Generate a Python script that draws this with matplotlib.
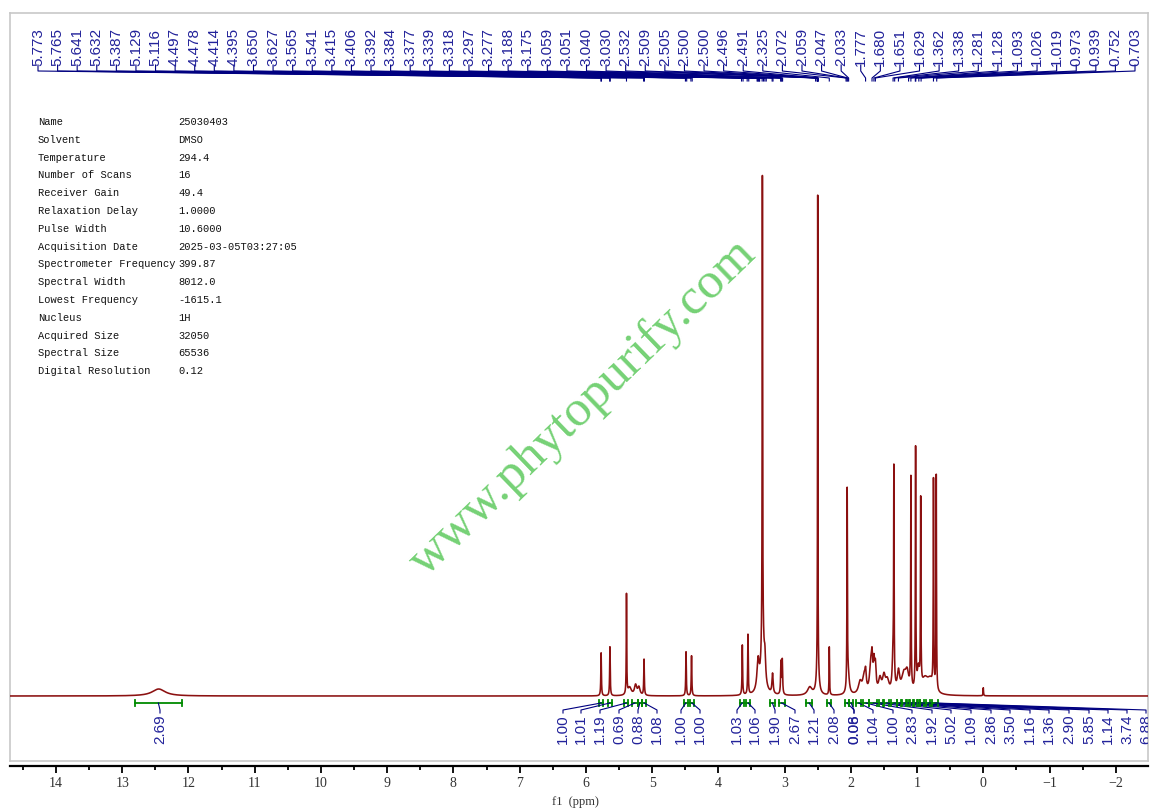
import numpy as np
import matplotlib
matplotlib.use("Agg")
import matplotlib.pyplot as plt
from matplotlib.ticker import MultipleLocator, FuncFormatter

# ---------------- data ----------------
# spectrum peaks: position (ppm), height (arb., baseline = 0), half width (ppm)
peak_ppm = [12.45, 5.770, 5.637, 5.387, 5.34, 5.25, 5.20, 5.122, 4.488, 4.405,
            3.638, 3.553, 3.40, 3.335, 3.33, 3.297, 3.182, 3.055, 3.035, 2.62,
            2.500, 2.50, 2.325, 2.055, 2.04, 1.86, 1.80, 1.777, 1.70, 1.680,
            1.651, 1.629, 1.56, 1.50, 1.45, 1.362, 1.350, 1.281, 1.20, 1.15,
            1.093, 1.022, 0.98, 0.945, 0.88, 0.80, 0.752, 0.710, 0.0]
peak_height = [7, 43, 49, 100, 8, 10, 8, 36, 44, 40,
               50, 60, 30, 467, 50, 22, 20, 32, 34, 8,
               470, 30, 48, 195, 20, 12, 16, 16, 26, 28,
               26, 24, 14, 16, 12, 35, 205, 20, 18, 18,
               211, 240, 22, 185, 14, 12, 207, 215, 8]
peak_width = [0.12, 0.005, 0.005, 0.004, 0.03, 0.02, 0.02, 0.005, 0.005, 0.005,
              0.005, 0.005, 0.02, 0.004, 0.03, 0.012, 0.01, 0.006, 0.006, 0.04,
              0.003, 0.02, 0.004, 0.004, 0.02, 0.03, 0.025, 0.012, 0.02, 0.012,
              0.012, 0.012, 0.025, 0.025, 0.03, 0.015, 0.004, 0.02, 0.04, 0.03,
              0.004, 0.004, 0.02, 0.004, 0.06, 0.05, 0.004, 0.004, 0.004]

# peak pick labels (ppm)
peak_labels = [5.773, 5.765, 5.641, 5.632, 5.387, 5.129, 5.116, 4.497, 4.478, 4.414,
               4.395, 3.650, 3.627, 3.565, 3.541, 3.415, 3.406, 3.392, 3.384, 3.377,
               3.339, 3.318, 3.297, 3.277, 3.188, 3.175, 3.059, 3.051, 3.040, 3.030,
               2.532, 2.509, 2.505, 2.500, 2.500, 2.496, 2.491, 2.325, 2.072, 2.059,
               2.047, 2.033, 1.777, 1.680, 1.651, 1.629, 1.362, 1.338, 1.281, 1.128,
               1.093, 1.026, 1.019, 0.973, 0.939, 0.752, 0.703]

# integrals: start, end (ppm), value
int_start = [12.81, 5.80, 5.67, 5.42, 5.30, 5.21, 5.15, 4.52, 4.43, 3.67, 3.58, 3.22,
             3.09, 2.68, 2.36, 2.09, 2.02, 1.92, 1.82, 1.72, 1.58, 1.50, 1.40, 1.30,
             1.23, 1.15, 1.11, 1.05, 0.99, 0.96, 0.86, 0.78]
int_end = [12.10, 5.74, 5.61, 5.36, 5.22, 5.16, 5.09, 4.46, 4.37, 3.61, 3.52, 3.15,
           3.00, 2.58, 2.30, 2.02, 1.97, 1.84, 1.72, 1.60, 1.52, 1.42, 1.30, 1.24,
           1.16, 1.12, 1.06, 1.00, 0.96, 0.90, 0.80, 0.68]
int_value = ["2.69", "1.00", "1.01", "1.19", "0.69", "0.88", "1.08", "1.00", "1.00",
             "1.03", "1.06", "1.90", "2.67", "1.21", "2.08", "0.08", "0.06", "1.04",
             "1.00", "2.83", "1.92", "5.02", "1.09", "2.86", "3.50", "1.16", "1.36",
             "2.90", "5.85", "1.14", "3.74", "6.88"]

param_names = ["Name", "Solvent", "Temperature", "Number of Scans", "Receiver Gain",
               "Relaxation Delay", "Pulse Width", "Acquisition Date",
               "Spectrometer Frequency", "Spectral Width", "Lowest Frequency",
               "Nucleus", "Acquired Size", "Spectral Size", "Digital Resolution"]
param_values = ["25030403", "DMSO", "294.4", "16", "49.4", "1.0000", "10.6000",
                "2025-03-05T03:27:05", "399.87", "8012.0", "-1615.1", "1H",
                "32050", "65536", "0.12"]

# ---------------- layout ----------------
W, H = 1157, 811
fig = plt.figure(figsize=(W / 100, H / 100), dpi=100)
ax_l, ax_r, ax_t, ax_b = 10, 1148, 13, 761
ax = fig.add_axes([ax_l / W, 1 - ax_b / H, (ax_r - ax_l) / W, (ax_b - ax_t) / H])
base_px = 696
x0, x1 = 14.695, -2.487
ax.set_xlim(x0, x1)
ax.set_ylim(-(ax_b - base_px), base_px - ax_t)

def py(p):  # pixel row -> data y
    return base_px - p

def frac_to_ppm(f):
    return x0 + f * (x1 - x0)

def px_to_ppm(p):
    return frac_to_ppm((p - ax_l) / (ax_r - ax_l))

# spectrum
x = np.linspace(x0, x1, 80000)
y = np.zeros_like(x)
for c, h, w in zip(peak_ppm, peak_height, peak_width):
    y += h * w**2 / ((x - c)**2 + w**2)
ax.plot(x, y, color="#8b1010", lw=1.15, zorder=3)

# frame
frame_col = "#c8c8c8"
for s in ["left", "right", "top"]:
    ax.spines[s].set_color(frame_col)
    ax.spines[s].set_linewidth(1.2)
ax.plot([0, 1], [0, 0], transform=ax.transAxes, color=frame_col, lw=1.2, clip_on=False)
ax.spines["bottom"].set_position(("outward", 3.6))
ax.spines["bottom"].set_linewidth(1.6)
ax.spines["bottom"].set_color("black")
ax.set_yticks([])
ax.xaxis.set_major_locator(MultipleLocator(1))
ax.xaxis.set_minor_locator(MultipleLocator(0.5))
ax.xaxis.set_major_formatter(FuncFormatter(lambda v, p: f"{int(round(v))}".replace("-", "\u2212")))
ax.tick_params(axis="x", which="major", length=5, width=1.3, direction="out", pad=3,
               labelsize=10, labelcolor="#333333")
ax.tick_params(axis="x", which="minor", length=3, width=1.3, direction="out")
for lab in ax.get_xticklabels():
    lab.set_fontfamily("Liberation Serif")
ax.set_xlabel("f1  (ppm)", fontsize=9, family="Liberation Serif", color="#333333", labelpad=3)
ax.xaxis.set_label_coords((575 - ax_l) / (ax_r - ax_l), -0.047)

label_col = "#22229a"
line_col = "#000080"

# peak pick labels on top
n = len(peak_labels)
fracs = np.linspace((38 - ax_l) / (ax_r - ax_l), (1135 - ax_l) / (ax_r - ax_l), n)
for f, p in zip(fracs, peak_labels):
    lx = frac_to_ppm(f)
    ax.text(lx, py(66), f"{p:.3f}", rotation=90, ha="center", va="bottom",
            fontsize=11, family="Liberation Sans", color=label_col, zorder=5)
    ax.plot([lx, lx, p, p], [py(65), py(71), py(78), py(81)], color=line_col, lw=0.8,
            zorder=4)

# integrals
int_label_px = [160, 563, 581, 600, 619, 638, 657, 681, 700, 737, 755, 775, 795, 814,
                834, 854, 854, 873, 893, 912, 932, 951, 971, 991, 1010, 1030, 1049,
                1069, 1089, 1108, 1127, 1146]
green = "#008a00"
for s, e, v, lp in zip(int_start, int_end, int_value, int_label_px):
    ax.plot([s, e], [py(703), py(703)], color=green, lw=1.3, zorder=4)
    for xx in (s, e):
        ax.plot([xx, xx], [py(700), py(706)], color=green, lw=1.3, zorder=4)
    c = 0.5 * (s + e)
    lx = px_to_ppm(lp)
    ax.plot([c, lx, lx], [py(703), py(710), py(713)], color=line_col, lw=0.8, zorder=4)
    ax.text(lx, py(714), v, rotation=90, ha="center", va="top", fontsize=11,
            family="Liberation Sans", color=label_col, zorder=5, clip_on=True)

# parameter table
for i, (nm, val) in enumerate(zip(param_names, param_values)):
    yy = py(122 + i * 17.8)
    ax.text(px_to_ppm(38), yy, nm, ha="left", va="center", fontsize=7.5,
            family="Liberation Mono", color="#111111")
    ax.text(px_to_ppm(178), yy, val, ha="left", va="center", fontsize=7.5,
            family="Liberation Mono", color="#111111")

# watermark
ax.text(px_to_ppm(583), py(408), "www.phytopurify.com", rotation=44, ha="center",
        va="center", fontsize=37, family="Liberation Serif", color="#66cc66",
        alpha=0.9, zorder=2, rotation_mode="anchor")

fig.savefig("out.png", dpi=100)
